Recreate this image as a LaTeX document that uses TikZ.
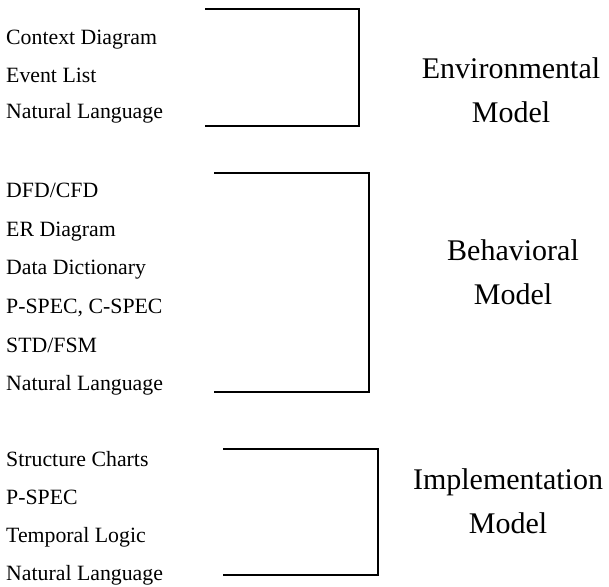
\documentclass[tikz,border=0pt]{standalone}
\usepackage{fontspec}
\setmainfont{Liberation Serif}
\begin{document}
\begin{tikzpicture}[x=1pt,y=-1pt,
  item/.style={anchor=base west,inner sep=0pt,font=\fontsize{21.8}{26}\selectfont},
  model/.style={align=center,inner sep=0pt,anchor=base,font=\fontsize{30}{44}\selectfont},
  bracket/.style={line width=1.1pt}]
\useasboundingbox (0,0) rectangle (609,586);
% Environmental
\node[item] (e1) at (6,45) {Context Diagram};
\node[item] (e2) at (6,82) {Event List};
\node[item] (e3) at (6,118) {Natural Language};
\coordinate (ea) at (205,9);
\coordinate (eb) at (359,9);
\coordinate (ec) at (359,126);
\coordinate (ed) at (205,126);
\draw[bracket] (ea) -- (eb) -- (ec) -- (ed);
\node[model] (em) at (511,122) {Environmental\\Model};
% Behavioral
\node[item] (b1) at (6,197) {DFD/CFD};
\node[item] (b2) at (6,236) {ER Diagram};
\node[item] (b3) at (6,274) {Data Dictionary};
\node[item] (b4) at (6,313) {P-SPEC, C-SPEC};
\node[item] (b5) at (6,352) {STD/FSM};
\node[item] (b6) at (6,390) {Natural Language};
\coordinate (ba) at (214,173);
\coordinate (bb) at (369,173);
\coordinate (bc) at (369,392);
\coordinate (bd) at (214,392);
\draw[bracket] (ba) -- (bb) -- (bc) -- (bd);
\node[model] (bm) at (513,304) {Behavioral\\Model};
% Implementation
\node[item] (i1) at (6,466) {Structure Charts};
\node[item] (i2) at (6,504) {P-SPEC};
\node[item] (i3) at (6,542) {Temporal Logic};
\node[item] (i4) at (6,580) {Natural Language};
\coordinate (ia) at (223,449);
\coordinate (ib) at (378,449);
\coordinate (ic) at (378,575);
\coordinate (id) at (223,575);
\draw[bracket] (ia) -- (ib) -- (ic) -- (id);
\node[model] (im) at (508,533) {Implementation\\Model};
\end{tikzpicture}
\end{document}
